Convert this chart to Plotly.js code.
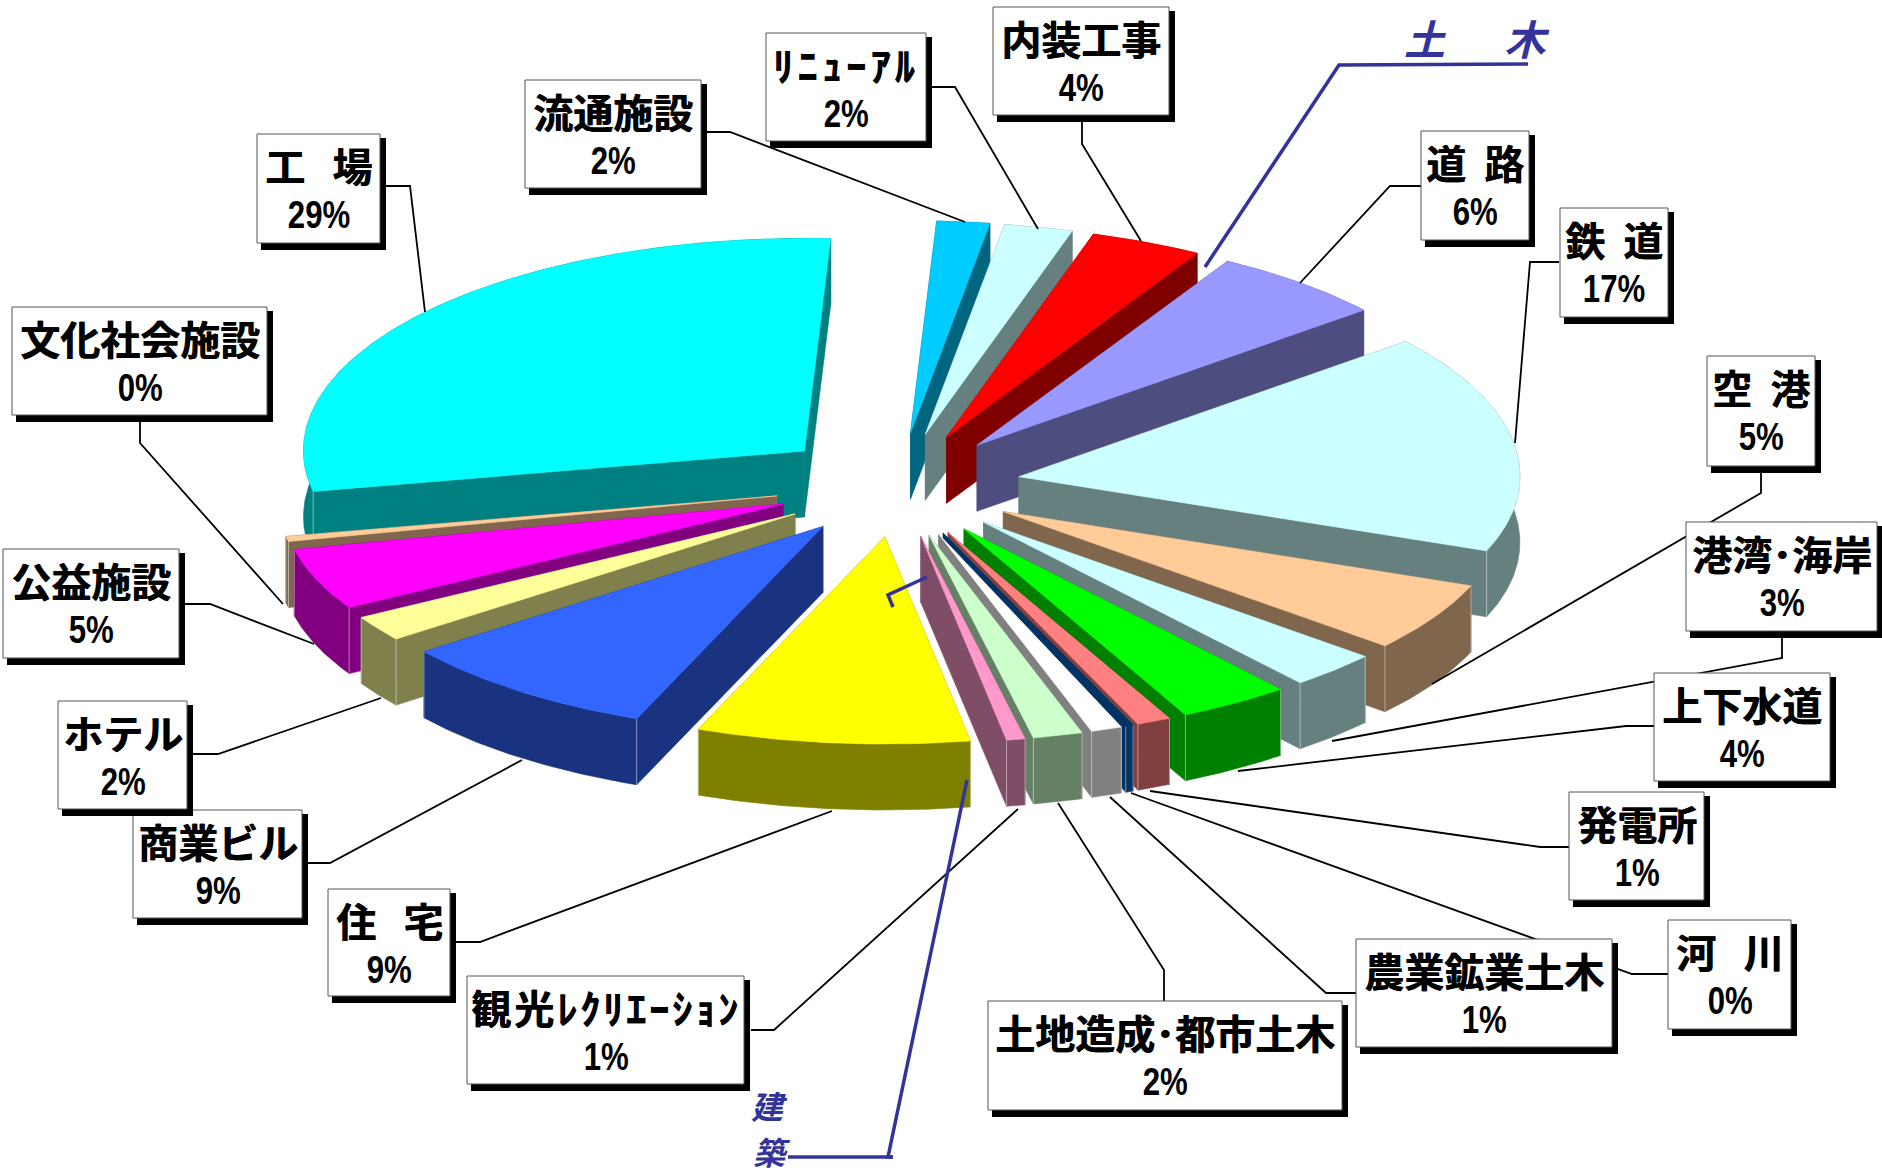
<!DOCTYPE html>
<html><head><meta charset="utf-8">
<script src="https://cdn.plot.ly/plotly-3.0.1.min.js"></script>
<style>html,body{margin:0;padding:0;background:#fff;overflow:hidden}</style>
</head><body><div id="chart" style="width:1882px;height:1175px"></div>
<script>
// ---- chart data ----
const categories = ['流通施設','ﾘﾆｭｰｱﾙ','内装工事','道\u00A0\u00A0路','鉄\u00A0\u00A0道','空\u00A0\u00A0港','港湾･海岸','上下水道','発電所','河\u00A0\u00A0\u00A0川','農業鉱業土木','土地造成･都市土木','観光ﾚｸﾘｴｰｼｮﾝ','住\u00A0\u00A0\u00A0宅','商業ビル','ホテル','公益施設','文化社会施設','工\u00A0\u00A0\u00A0場'];
const values = [1.7,2.2,3.6,5.7,16.8,5.38,2.9,3.6,1.1,0.25,1.0,1.6,0.6,8.8,8.6,2.0,4.8,0.4,28.97];
const percentLabels = ['2%','2%','4%','6%','17%','5%','3%','4%','1%','0%','1%','2%','1%','9%','9%','2%','5%','0%','29%'];
const topColors = ['#00CCFF','#CCFFFF','#FF0000','#9999FF','#CCFFFF','#FFCC99','#CCFFFF','#00FF00','#FF8080','#003366','#FFFFFF','#CCFFCC','#FF99CC','#FFFF00','#3366FF','#FFFF99','#FF00FF','#FFCC99','#00FFFF'];
const wallColors = ['#006680','#668080','#800000','#4D4D80','#668080','#80664D','#668080','#008000','#804040','#003366','#808080','#668066','#804D66','#808000','#1A3380','#80804D','#800080','#80664D','#008080'];
const letterSpacing = {'ﾘﾆｭｰｱﾙ':4.3,'観光ﾚｸﾘｴｰｼｮﾝ':3};

// box of each label: left, top, right, bottom
const labelBoxes = [[525,80,701,188],[766,33,926,141],[993,7,1169,115],[1421,131,1529,240],[1560,208,1668,317],[1707,356,1815,466],[1686,522,1877,631],[1654,673,1830,781],[1569,792,1704,900],[1668,920,1791,1029],[1356,939,1612,1047],[988,1001,1342,1110],[467,976,744,1084],[328,889,450,996],[133,810,302,918],[58,701,187,809],[3,549,179,658],[12,307,267,415],[257,134,380,243]];
// leader lines from the labels to the slices
const leaders = [
 [[703,132],[730,132],[965,222]],[[931,87],[955,87],[1038,229]],[[1082,122],[1082,144],[1141,241]],
 [[1421,186],[1390,186],[1300,283]],[[1559,262],[1530,262],[1515,443]],[[1761,470],[1761,493],[1432,684]],
 [[1782,631],[1782,658],[1332,741]],[[1654,726],[1626,726],[1238,771]],[[1569,847],[1540,847],[1150,791]],
 [[1668,974],[1632,974],[1131,793]],[[1356,993],[1326,993],[1110,797]],[[1164,1001],[1164,970],[1058,803]],
 [[751,1030],[774,1030],[1018,809]],[[452,942],[480,942],[832,811]],[[304,863],[330,863],[522,760]],
 [[190,754],[218,754],[381,698]],[[185,604],[210,604],[314,644]],[[140,422],[140,443],[283,604]],[[381,186],[410,186],[425,312]]
];
const groupLines = [
 [[1205,267],[1339,65],[1528,64]],
 [[967,780],[888,1157],[893,1157]],
 [[893,1157],[788,1157]],
 [[927,577],[888,595],[893,607]]
];

// ---- pie projection ----
const CX=897.5, CY=485, R=501, K=0.424, EXPLODE=123, DEPTH=66, START=3, FRONT=0.975;
const rad = d => d*Math.PI/180;
const px = (ax,a) => ax + R*Math.sin(rad(a));
const py = (ay,a) => { const c=Math.cos(rad(a)); return ay - R*K*c*(c<0?FRONT:1); };
const total = values.reduce((s,v)=>s+v,0);
let acc = START;
const slices = values.map((v,i)=>{
  const a0=acc, a1=acc+v/total*360; acc=a1;
  const m=(a0+a1)/2;
  return {i,a0,a1,m,ax:CX+EXPLODE*Math.sin(rad(m)),ay:CY-EXPLODE*K*Math.cos(rad(m))};
});
const poly = (xs,ys,color,lw) => ({type:'scatter',mode:'lines',x:[...xs,xs[0]],y:[...ys,ys[0]],fill:'toself',fillcolor:color,line:{color:color,width:lw===undefined?0.6:lw},hoverinfo:'skip',showlegend:false});
const traces=[];
[...slices].sort((a,b)=>Math.cos(rad(b.m))-Math.cos(rad(a.m))).forEach(s=>{
  const top=topColors[s.i], wall=wallColors[s.i];
  const n=Math.max(2,Math.ceil(s.a1-s.a0)*2);
  const angles=[]; for(let j=0;j<=n;j++) angles.push(s.a0+(s.a1-s.a0)*j/n);
  const ax=angles.map(a=>px(s.ax,a)), ay=angles.map(a=>py(s.ay,a));
  [s.a0,s.a1].forEach(a=>{
    const ex=px(s.ax,a), ey=py(s.ay,a);
    traces.push(poly([s.ax,ex,ex,s.ax],[s.ay,ey,ey+DEPTH,s.ay+DEPTH],wall));
  });
  traces.push(poly([...ax,...[...ax].reverse()],[...ay,...[...ay].reverse().map(y=>y+DEPTH)],wall));
  [s.a0,s.a1].forEach(a=>{
    if(Math.cos(rad(a))<0.3){
      const ex=px(s.ax,a), ey=py(s.ay,a);
      traces.push({type:'scatter',mode:'lines',x:[ex,ex],y:[ey,ey+DEPTH],line:{color:'rgba(255,255,255,0.45)',width:1},hoverinfo:'skip',showlegend:false});
    }
  });
  traces.push(poly([s.ax,...ax],[s.ay,...ay],top));
});

// ---- labels ----
const shapes=[], annotations=[];
const pathOf = pts => pts.map((p,i)=>(i?'L':'M')+p[0]+','+p[1]).join(' ');
const pline = (pts,color,w) => ({type:'path',xref:'x',yref:'y',path:pathOf(pts),line:{color:color,width:w},fillcolor:'rgba(0,0,0,0)',layer:'above'});
leaders.forEach(l=>shapes.push(pline(l,'#000000',1.8)));
groupLines.forEach(l=>shapes.push(pline(l,'#333399',3.5)));
const FONT='"Noto Sans CJK JP","Liberation Sans",sans-serif';
const NUMFONT='"Liberation Sans",sans-serif';
const heavy='0.7px 0 0 currentColor';
labelBoxes.forEach((b,i)=>{
  shapes.push({type:'rect',xref:'x',yref:'y',x0:b[0]+4,y0:b[1]+4,x1:b[2]+6,y1:b[3]+7,fillcolor:'#000',line:{width:0},layer:'above'});
  shapes.push({type:'rect',xref:'x',yref:'y',x0:b[0],y0:b[1],x1:b[2],y1:b[3],fillcolor:'#fff',line:{color:'#555',width:1},layer:'above'});
  const c=(b[0]+b[2])/2;
  annotations.push({xref:'x',yref:'y',x:c,y:b[1]+31,text:categories[i],showarrow:false,xanchor:'center',yanchor:'middle',font:{family:FONT,size:40,color:'#000',weight:700,shadow:heavy}});
  annotations.push({xref:'x',yref:'y',x:c,y:b[1]+80,text:percentLabels[i],showarrow:false,xanchor:'center',yanchor:'middle',font:{family:NUMFONT,size:39,color:'#000',weight:700}});
});
const blue={family:FONT,size:41,color:'#333399',weight:700,style:'italic'};
annotations.push({xref:'x',yref:'y',x:1477,y:37,text:'土\u3000\u00A0\u00A0木',showarrow:false,xanchor:'center',yanchor:'middle',font:blue});
annotations.push({xref:'x',yref:'y',x:769,y:1105,text:'建',showarrow:false,xanchor:'center',yanchor:'middle',font:{...blue,size:32}});
annotations.push({xref:'x',yref:'y',x:772,y:1151,text:'築',showarrow:false,xanchor:'center',yanchor:'middle',font:{...blue,size:32}});

Plotly.newPlot('chart',traces,{
  width:1882,height:1175,margin:{l:0,r:0,t:0,b:0},paper_bgcolor:'#fff',plot_bgcolor:'#fff',showlegend:false,
  xaxis:{range:[0,1882],visible:false,fixedrange:true},
  yaxis:{range:[1175,0],visible:false,fixedrange:true},
  shapes,annotations
},{displayModeBar:false,staticPlot:true}).then(()=>{
  // the reference sets its percentages in half-width figures
  document.querySelectorAll('#chart .annotation text').forEach(t=>{
    const s=t.textContent;
    if(s.endsWith('%')){
      const bb=t.getBBox(), cx=bb.x+bb.width/2;
      t.setAttribute('transform',`translate(${cx} 0) scale(0.8 1) translate(${-cx} 0)`);
    } else if(letterSpacing[s]){
      t.style.letterSpacing=letterSpacing[s]+'px';
    }
  });
});
</script></body></html>
